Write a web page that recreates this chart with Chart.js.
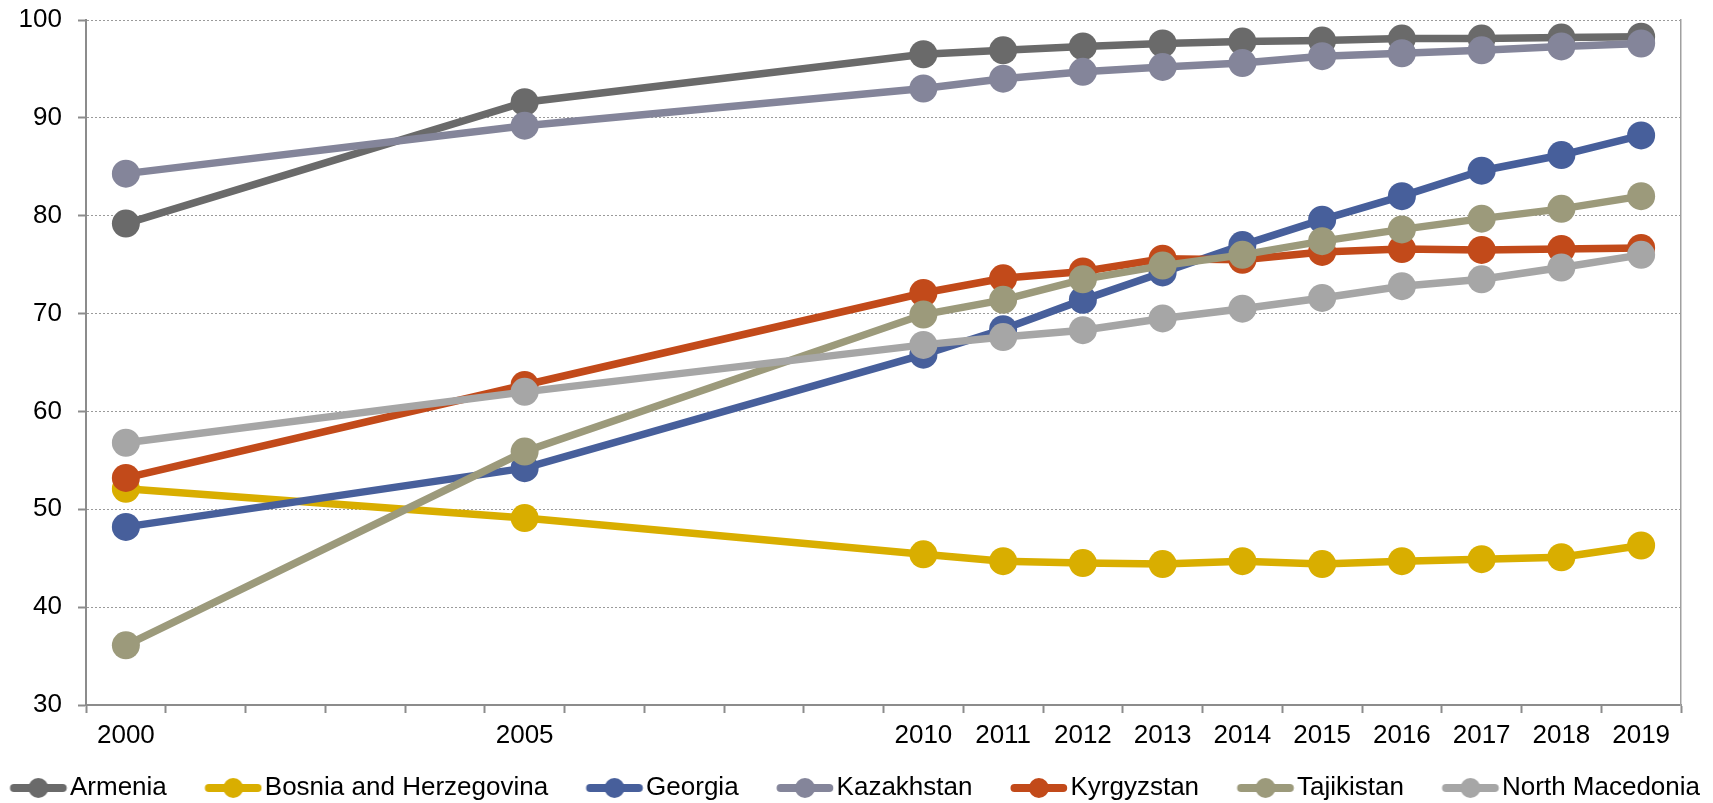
<!DOCTYPE html>
<html>
<head>
<meta charset="utf-8">
<script src="https://cdn.jsdelivr.net/npm/chart.js@4/dist/chart.umd.min.js"></script>
<style>
  html, body { margin: 0; padding: 0; background: #ffffff; }
  #wrap { width: 1713px; height: 803px; position: relative; }
</style>
</head>
<body>
<div id="wrap"><canvas id="c"></canvas></div>
<script>
// Category slots on the x axis (one per year)
const axisYears = ['2000','2001','2002','2003','2004','2005','2006','2007','2008','2009',
                   '2010','2011','2012','2013','2014','2015','2016','2017','2018','2019'];
// Tick labels that are shown
const tickLabels = ['2000','2005','2010','2011','2012','2013','2014','2015','2016','2017','2018','2019'];
// Years with observations
const years = ['2000','2005','2010','2011','2012','2013','2014','2015','2016','2017','2018','2019'];

const seriesNames = ['Armenia','Bosnia and Herzegovina','Georgia','Kazakhstan','Kyrgyzstan','Tajikistan','North Macedonia'];
const armenia        = [79.2, 91.6, 96.5, 96.9, 97.3, 97.6, 97.8, 97.9, 98.1, 98.1, 98.2, 98.3];
const bosnia         = [52.1, 49.1, 45.4, 44.7, 44.5, 44.4, 44.7, 44.4, 44.7, 44.9, 45.1, 46.3];
const georgia        = [48.2, 54.2, 65.8, 68.4, 71.4, 74.2, 77.0, 79.6, 82.0, 84.6, 86.2, 88.2];
const kazakhstan     = [84.3, 89.2, 93.0, 94.0, 94.7, 95.2, 95.6, 96.3, 96.6, 96.9, 97.3, 97.6];
const kyrgyzstan     = [53.2, 62.7, 72.1, 73.6, 74.3, 75.6, 75.5, 76.3, 76.6, 76.5, 76.6, 76.7];
const tajikistan     = [36.1, 55.9, 69.9, 71.4, 73.5, 74.9, 76.0, 77.4, 78.6, 79.7, 80.7, 82.0];
const northMacedonia = [56.8, 62.0, 66.8, 67.6, 68.3, 69.5, 70.5, 71.6, 72.8, 73.5, 74.7, 76.0];

const seriesValues = [armenia, bosnia, georgia, kazakhstan, kyrgyzstan, tajikistan, northMacedonia];
const colors = ['#6a6a6a', '#d9ae00', '#475f9b', '#84859a', '#c24a1a', '#9c9a7b', '#a6a6a6'];

const FONT = { family: '"Liberation Sans", Arial, Helvetica, sans-serif', size: 26 };
const AXIS = '#8c8c8c';

// Legend symbol: short line with a marker, drawn into a canvas used as point style
function legendIcon(color) {
  const c = document.createElement('canvas');
  c.width = 106; c.height = 26;
  const g = c.getContext('2d');
  g.strokeStyle = color; g.lineWidth = 8; g.lineCap = 'round';
  g.beginPath(); g.moveTo(52.5, 13); g.lineTo(101.2, 13); g.stroke();
  g.fillStyle = color;
  g.beginPath(); g.arc(76.9, 13, 10, 0, Math.PI * 2); g.fill();
  return c;
}
const icons = colors.map(legendIcon);

const n = seriesNames.length;
const datasets = seriesNames.map((name, i) => ({
  label: name,
  data: years.map((y, k) => ({ x: y, y: seriesValues[i][k] })),
  borderColor: colors[i],
  backgroundColor: colors[i],
  pointBackgroundColor: colors[i],
  pointBorderWidth: 0,
  pointRadius: 14,
  pointHoverRadius: 14,
  borderWidth: 7.5,
  tension: 0,
  yAxisID: 'y',
  order: n - i
}));

new Chart(document.getElementById('c'), {
  type: 'line',
  data: { labels: axisYears, datasets },
  options: {
    responsive: true,
    maintainAspectRatio: false,
    animation: false,
    events: [],
    layout: { padding: { left: -28, right: 0, top: 20, bottom: -8 } },
    scales: {
      x: {
        type: 'category',
        offset: true,
        afterFit: (s) => { s.height = 70; },
        grid: {
          offset: true,
          drawOnChartArea: false,
          drawTicks: true,
          tickLength: 8,
          tickColor: AXIS,
          tickWidth: 2,
          color: AXIS
        },
        border: { display: true, color: AXIS, width: 2 },
        ticks: {
          autoSkip: false,
          maxRotation: 0,
          minRotation: 0,
          padding: 7,
          color: '#000000',
          font: FONT,
          callback: function (value) {
            const lab = this.getLabelForValue(value);
            return tickLabels.includes(lab) ? lab : '';
          }
        }
      },
      y: {
        position: 'left',
        min: 30,
        max: 100,
        afterFit: (s) => { s.width = 114; s.paddingTop = 0; s.paddingBottom = 0; },
        grid: {
          color: '#9a9a9a',
          lineWidth: 1,
          drawTicks: true,
          tickLength: 8,
          tickColor: AXIS,
          tickWidth: 2,
          tickBorderDash: []
        },
        border: { display: true, color: AXIS, width: 2, dash: [2, 2] },
        ticks: {
          stepSize: 10,
          padding: 16,
          color: '#000000',
          font: FONT
        }
      },
      yRight: {
        type: 'linear',
        position: 'right',
        display: true,
        afterFit: (s) => { s.width = 32; s.paddingTop = 0; s.paddingBottom = 0; },
        grid: { display: false, drawOnChartArea: false, drawTicks: false },
        border: { display: true, color: '#a0a0a0', width: 1.5 },
        ticks: { display: false }
      }
    },
    plugins: {
      tooltip: { enabled: false },
      legend: {
        display: true,
        position: 'bottom',
        align: 'start',
        labels: {
          usePointStyle: true,
          pointStyleWidth: 85,
          boxHeight: 26,
          padding: 0,
          color: '#000000',
          font: FONT,
          sort: (a, b) => a.datasetIndex - b.datasetIndex,
          generateLabels: (chart) => {
            const items = Chart.defaults.plugins.legend.labels.generateLabels(chart);
            items.forEach((it) => { it.pointStyle = icons[it.datasetIndex]; });
            return items;
          }
        }
      }
    }
  }
});
</script>
</body>
</html>
